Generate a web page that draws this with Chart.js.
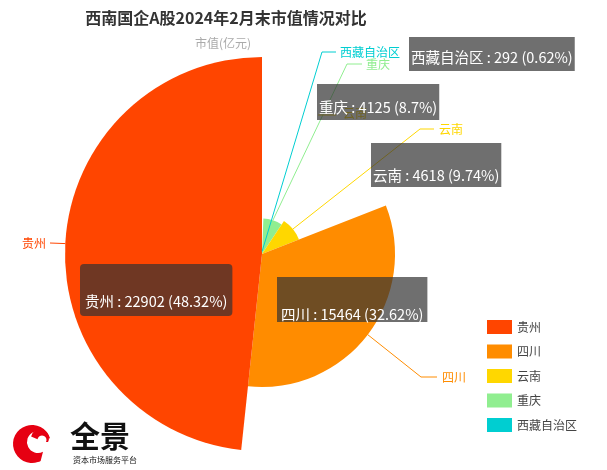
<!DOCTYPE html>
<html>
<head>
<meta charset="utf-8">
<script src="https://cdn.jsdelivr.net/npm/chart.js@4.4.1/dist/chart.umd.min.js"></script>
<style>
  body { margin: 0; background: #fff; }
  #wrap { width: 607px; height: 470px; }
</style>
</head>
<body>
<div id="wrap"><canvas id="chart" width="607" height="470"></canvas></div>
<script>
// data (市值, 亿元)
const categories = ["贵州", "四川", "云南", "重庆", "西藏自治区"];
const values = [22902, 15464, 4618, 4125, 292];
const colors = ["#FF4500", "#FF8C00", "#FFD700", "#90EE90", "#00CED1"];

const titleText = "西南国企A股2024年2月末市值情况对比";
const subtitleText = "市值(亿元)";

const FONT = '"Noto Sans CJK SC", "Microsoft YaHei", sans-serif';
const total = values.reduce((a, b) => a + b, 0);

function pct(v) {
    return parseFloat((v / total * 100).toFixed(2)) + "%";
}

// outside name labels: bend points of the leader line and text anchor
const outerLabels = {
    "贵州": { pts: [[50, 243]], tx: 46, ty: 243, align: "right" },
    "四川": { pts: [[421, 377], [437, 377]], tx: 442, ty: 377, align: "left" },
    "云南": { pts: [[420, 129], [434, 129]], tx: 439, ty: 129, align: "left" },
    "重庆": { pts: [[347, 64], [362, 64]], tx: 366, ty: 64, align: "left" },
    "西藏自治区": { pts: [[322, 52], [336, 52]], tx: 340, ty: 52, align: "left" }
};

// value boxes
const boxLabels = {
    "西藏自治区": { x: 409, y: 37, h: 34, pad: 2, ty: 57 },
    "重庆": { x: 317, y: 84, h: 36, pad: 2, ty: 107 },
    "云南": { x: 371, y: 143, h: 44, pad: 2, ty: 175 },
    "贵州": { x: 80, y: 264, h: 52, pad: 5, ty: 301, round: 4 },
    "四川": { x: 277, y: 277, h: 45, pad: 4, ty: 314 }
};

// pie is drawn clockwise, reference goes counter-clockwise -> reverse
const pieLabels = categories.slice().reverse();
const pieValues = values.slice().reverse();
const pieColors = colors.slice().reverse();

// radius follows value (rose chart)
const roseRadius = {
    id: "roseRadius",
    afterDatasetsUpdate(chart) {
        const meta = chart.getDatasetMeta(0);
        const vals = chart.data.datasets[0].data;
        const vmax = Math.max(...vals);
        meta.data.forEach((arc, i) => {
            arc.outerRadius = arc.outerRadius * vals[i] / vmax;
        });
    }
};

const decorations = {
    id: "decorations",
    afterDraw(chart) {
        const ctx = chart.ctx;
        const meta = chart.getDatasetMeta(0);
        ctx.save();

        // title + subtitle
        ctx.textAlign = "center";
        ctx.textBaseline = "middle";
        ctx.fillStyle = "#333";
        ctx.font = "bold 16px " + FONT;
        ctx.fillText(titleText, 226, 18);
        ctx.fillStyle = "#aaa";
        ctx.font = "12px " + FONT;
        ctx.fillText(subtitleText, 223, 43);

        // leader lines + name labels
        meta.data.forEach((arc, i) => {
            const name = pieLabels[i];
            const lab = outerLabels[name];
            const mid = (arc.startAngle + arc.endAngle) / 2;
            const sx = arc.x + arc.outerRadius * Math.cos(mid);
            const sy = arc.y + arc.outerRadius * Math.sin(mid);
            ctx.strokeStyle = pieColors[i];
            ctx.lineWidth = 1;
            ctx.beginPath();
            ctx.moveTo(sx, sy);
            lab.pts.forEach(p => ctx.lineTo(p[0], p[1]));
            ctx.stroke();
            ctx.fillStyle = pieColors[i];
            ctx.font = "12px " + FONT;
            ctx.textAlign = lab.align;
            ctx.fillText(name, lab.tx, lab.ty);
        });

        // hidden duplicate 云南 label under the 重庆 box
        ctx.strokeStyle = colors[2];
        ctx.beginPath();
        ctx.moveTo(318, 115);
        ctx.lineTo(336, 115);
        ctx.stroke();
        ctx.fillStyle = colors[2];
        ctx.textAlign = "left";
        ctx.fillText("云南", 343, 113);

        // value boxes
        ctx.font = "14.5px " + FONT;
        categories.forEach((name, i) => {
            const b = boxLabels[name];
            const text = name + " : " + values[i] + " (" + pct(values[i]) + ")";
            const w = ctx.measureText(text).width + b.pad * 2;
            ctx.fillStyle = "rgba(50,50,50,0.7)";
            ctx.beginPath();
            if (b.round) ctx.roundRect(b.x, b.y, w, b.h, b.round);
            else ctx.rect(b.x, b.y, w, b.h);
            ctx.fill();
            ctx.fillStyle = "#fff";
            ctx.textAlign = "left";
            ctx.fillText(text, b.x + b.pad, b.ty);
        });

        // legend
        ctx.font = "12px " + FONT;
        categories.forEach((name, i) => {
            const y = 327 + i * 24.5;
            ctx.fillStyle = colors[i];
            ctx.fillRect(487, y - 7, 25, 14);
            ctx.fillStyle = "#444";
            ctx.textAlign = "left";
            ctx.fillText(name, 517, y);
        });

        // logo
        ctx.fillStyle = "#E60012";
        ctx.beginPath();
        ctx.arc(32, 444, 19, -0.1 * Math.PI, 0.35 * Math.PI, true);
        ctx.arc(38, 442, 11, 0.35 * Math.PI, -0.1 * Math.PI, false);
        ctx.closePath();
        ctx.fill();
        ctx.beginPath();
        ctx.arc(40, 438, 9, -0.95 * Math.PI, 0.15 * Math.PI, false);
        ctx.arc(42, 440, 4.5, 0.15 * Math.PI, -0.95 * Math.PI, true);
        ctx.closePath();
        ctx.fill();
        ctx.fillStyle = "#111";
        ctx.textAlign = "left";
        ctx.font = "bold 30px " + FONT;
        ctx.fillText("全景", 70, 436);
        ctx.font = "8px " + FONT;
        ctx.fillText("资本市场服务平台", 73, 460);

        ctx.restore();
    }
};

new Chart(document.getElementById("chart"), {
    type: "pie",
    data: {
        labels: pieLabels,
        datasets: [{
            data: pieValues,
            backgroundColor: pieColors,
            borderWidth: 0
        }]
    },
    options: {
        responsive: false,
        animation: false,
        radius: 197,
        layout: {
            padding: { left: 0, right: 83, top: 38, bottom: 0 }
        },
        plugins: {
            legend: { display: false },
            title: { display: false },
            tooltip: { enabled: false }
        }
    },
    plugins: [roseRadius, decorations]
});
</script>
</body>
</html>
